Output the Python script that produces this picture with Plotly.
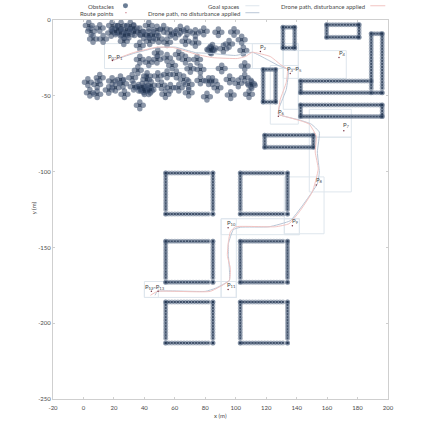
import plotly.graph_objects as go

OBST_X = [3.5,5.0,6.3,10.7,12.9,18.8,18.2,21.0,24.7,24.3,26.5,28.2,30.8,29.8,33.0,37.0,37.0,42.9,42.9,43.5,48.3,49.4,52.7,54.9,57.1,60.4,63.6,67.0,68.0,73.5,73.5,79.0,
          48.8,37.0,42.9,48.3,54.9,58.2,62.6,67.0,74.6,70.2,76.8,35.7,41.8,48.8,54.9,61.0,83.3,82.2,76.8,
          2.9,10.7,9.0,4.2,9.0,16.6,18.8,24.3,21.0,26.9,32,33,36.3,41.3,39.6,42.9,51.2,53.8,57.1,62.6,65.8,69.1,69.1,37,81.1,
          88.6,98.9,103.9,95.6,91.9,105,84.7,90.8,105.9,105.9,96.0,101.7,110.5,88,84.7,96.7,108.7,
          22.5,27,33.5,39.5,46,26,38.5,44.5,40,44,84,110]
OBST_Y = [-3.7,-7.5,-12.5,-5.3,-12.5,-3.7,-8.6,-7.5,-3.7,-8.6,-14.0,-6.4,-3.7,-9.7,-5.3,-7.5,-16.9,-3.7,-9.7,-14.0,-6.4,-12.5,-5.9,-14.7,-8.6,-9.7,-6.4,-14.0,-7.5,-8.6,-15.1,-7.5,
          -21.7,-26.1,-27.8,-26.1,-25.0,-30.0,-22.8,-26.1,-26.1,-32.2,-32.6,-33.1,-37.0,-37.0,-35.9,-35.9,-19.5,-40.3,-39.9,
          -41,-38.1,-42.5,-48,-49,-46.2,-40.3,-39.2,-44.7,-49,-38.1,-44,-44.7,-39.2,-45.8,-46.9,-43.1,-49,-44.7,-44.7,-39.2,-42.5,-48,-56.3,-50.6,
          -8.1,-7.9,-13,-15.8,-18.9,-20.2,-18.4,-32,-30.4,-38.1,-39.2,-41.8,-43,-44.7,-40.3,-49.5,-49,
          -6,-10,-8,-10,-10,-42,-44,-43,-47,-46,-20,-42]
LOBE_DX = [2.2, -2.2, 0, 0]
LOBE_DY = [0, 0, 2.2, -2.2]

COL_A = [54,56,58,60,62,64,66,68,70,72,74,76,78,80,82,85]
COL_B = [103,105,107,109,111,113,115,117,119,121,123,125,127,129,131,134]
ROW_1 = [-101,-103,-105,-107,-109,-111,-113,-115,-117,-119,-121,-123,-125,-128]
ROW_2 = [-146,-148,-150,-152,-154,-156,-158,-160,-162,-164,-166,-168,-170,-173]
ROW_3 = [-186,-188,-190,-192,-194,-196,-198,-200,-202,-204,-206,-208,-210,-213]
H_X = [119,121,123,125,127,129,131,133,135,137,139,141,143,145,147,149,151]
H_Y = [-76,-78,-80,-82,-84]
U1_X = [131,133,135,137,138.7]
U1_Y = [-4.8,-6.8,-8.8,-10.8,-12.8,-14.8,-16.8,-18.4]
U2_X = [159.7,161.7,163.7,165.7,167.7,169.7,171.7,173.7,175.7,177.7,179.7,181]
U2_Y = [-3.1,-5.1,-7.1,-9.1,-11.4]
U3_X = [118,120,122,124,126.2]
U3_Y = [-32.6,-34.6,-36.6,-38.6,-40.6,-42.6,-44.6,-46.6,-48.6,-50.6,-52.6,-54.1]
LONG_X = [142.6,144.6,146.6,148.6,150.6,152.6,154.6,156.6,158.6,160.6,162.6,164.6,166.6,168.6,170.6,172.6,174.6,176.6,178.6,180.6,182.6,184.6,186.6,188.6,190.6,192.6,194.6,196.2]
LOW_Y = [-56,-58,-60,-62,-63.7]
LSHAPE_Y = [-40.3,-42.3,-44.3,-46.3,-48]
LVERT_X = [189,191,193,195,196.2]
LVERT_Y = [-9,-11,-13,-15,-17,-19,-21,-23,-25,-27,-29,-31,-33,-35,-37,-39,-41,-43,-45,-48]
LTOP_X = [142.6,144.6,146.6,148.6,150.6,152.6,154.6,156.6,158.6,160.6,162.6,164.6,166.6,168.6,170.6,172.6,174.6,176.6,178.6,180.6,182.6,184.6,186.6,189]

def outline(xs, ys):
    px, py = [], []
    for x in xs:
        px += [x, x]; py += [ys[0], ys[-1]]
    for y in ys:
        px += [xs[0], xs[-1]]; py += [y, y]
    return px, py

WALLS = [(COL_A,ROW_1),(COL_B,ROW_1),(COL_A,ROW_2),(COL_B,ROW_2),(COL_A,ROW_3),(COL_B,ROW_3),
         (H_X,H_Y),(U1_X,U1_Y),(U2_X,U2_Y),(U3_X,U3_Y),(LONG_X,LOW_Y)]
wall_x, wall_y = [], []
for xs, ys in WALLS:
    a, b = outline(xs, ys)
    wall_x += a; wall_y += b
wall_x += LTOP_X; wall_y += [LSHAPE_Y[0]]*len(LTOP_X)
wall_x += LONG_X; wall_y += [LSHAPE_Y[-1]]*len(LONG_X)
wall_x += [LONG_X[0]]*len(LSHAPE_Y); wall_y += LSHAPE_Y
wall_x += [LVERT_X[0]]*len(LVERT_Y) + [LVERT_X[-1]]*len(LVERT_Y); wall_y += LVERT_Y + LVERT_Y
wall_x += LVERT_X; wall_y += [LVERT_Y[0]]*len(LVERT_X)

GOAL_X0 = [13.8,110.9,131.2,122.7,131.2,148.3,148.3,131.9,131.9,90.4,90.4,90.4,40,40]
GOAL_X1 = [131.2,141.1,141.1,141.1,172.6,175.9,175.9,158,141.8,141.8,100.4,100.4,100.4,49.2]
GOAL_Y0 = [-15.6,-15.6,-15.6,-30,-20.2,-58.9,-77.3,-103.5,-131.1,-131.1,-131.1,-172.5,-172.5,-177]
GOAL_Y1 = [-32,-32,-58.9,-68.7,-38.5,-77.3,-113.4,-141,-141.6,-141.6,-183,-183,-183,-183]

ROUTE_X = [19,116.2,135.8,167.8,128,171,152.9,137.2,95,95,44.6,49]
ROUTE_Y = [-26.7,-20.8,-35.3,-24.8,-63.5,-73.1,-108.8,-135.7,-137,-177.7,-179,-179]
LABELS = ["P<sub>0</sub>-P<sub>1</sub>","P<sub>2</sub>","P<sub>3</sub>-P<sub>5</sub>","P<sub>4</sub>","P<sub>6</sub>","P<sub>7</sub>","P<sub>8</sub>","P<sub>9</sub>","P<sub>10</sub>","P<sub>11</sub>","P<sub>12</sub>-P<sub>13</sub>"]
LABEL_X = [21,118.1,138.5,170.4,130,173,155.3,139.1,97.1,97.1,47.3]
LABEL_Y = [-24.1,-17.5,-32,-21.5,-60.9,-69.4,-105.5,-132.9,-133.7,-174.9,-175.8]

DIST_X = [19,32.8,48.6,59.1,74.8,84.7,101.1,106.3,110.9,122.7,129.3,133.9,133.2,129.3,128,131.9,143.7,148.3,152.9,152.2,154.2,150.3,141.8,135,126,99.8,96.5,95.2,94.5,96.5,95.8,83.3,48.6,44]
DIST_Y = [-26.7,-21.5,-17.9,-18.2,-22.8,-24.8,-25.4,-24.1,-21.3,-24.1,-29.3,-32.6,-41.2,-52.3,-62.2,-63.5,-66.8,-68.7,-76.6,-87.1,-98.3,-113.4,-126.5,-134.4,-136.4,-136.4,-139.6,-146.2,-155.4,-163.9,-171.8,-179,-179,-181.6]
NODIST_X = [19,32.8,48.6,60.4,73.5,84.7,99.8,110.9,120.7,129.3,134.5,133.2,128.6,128,131.9,142.4,149.6,154.9,153.6,154.9,153.6,143.7,135.8,121.9,103,98.4,95.2,95.2,95.8,95.8,86.6,80,48.6,47]
NODIST_Y = [-26.7,-22.1,-18.2,-17.9,-21.5,-22.1,-23.4,-21.3,-26.1,-30.7,-32.6,-45.8,-57.6,-62.2,-63.5,-66.1,-68.7,-74,-87.1,-100.3,-108.1,-122.6,-132.4,-136.4,-136.7,-138.3,-147.5,-155.4,-163.9,-171.8,-177,-179,-179,-181.6]

X_TICKS = [-20,0,20,40,60,80,100,120,140,160,180,200]
Y_TICKS = [0,-50,-100,-150,-200,-250]

FONT = "Lato"
TXT = "#4a4a4a"
OBST_COLOR = "rgba(56,76,106,0.58)"
WALL_COLOR = "rgba(76,96,124,0.46)"
CORE_COLOR = "rgba(30,48,76,0.75)"
WALL_CORE_COLOR = "rgba(30,48,76,0.75)"
GOAL_COLOR = "#dee6ed"
NODIST_COLOR = "#b9c6d6"
DIST_COLOR = "#f2c4c2"

PL, PR, PT, PB = 52.5, 387.7, 20.3, 401.0
def paper_x(px): return (px - PL) / (PR - PL)
def paper_y(py): return 1 - (py - PT) / (PB - PT)

fig = go.Figure()

gx, gy = [], []
for x0, x1, y0, y1 in zip(GOAL_X0, GOAL_X1, GOAL_Y0, GOAL_Y1):
    gx += [x0, x1, x1, x0, x0, None]; gy += [y0, y0, y1, y1, y0, None]
fig.add_trace(go.Scatter(x=gx, y=gy, mode="lines", line=dict(color=GOAL_COLOR, width=1), name="Goal spaces"))

lobe_x, lobe_y = [], []
for x, y in zip(OBST_X, OBST_Y):
    for dx, dy in zip(LOBE_DX, LOBE_DY):
        lobe_x.append(x + dx); lobe_y.append(y + dy)
fig.add_trace(go.Scatter(x=lobe_x, y=lobe_y, mode="markers", name="Obstacles",
                         marker=dict(size=5.5, color=OBST_COLOR, line=dict(width=0))))
fig.add_trace(go.Scatter(x=wall_x, y=wall_y, mode="markers", name="Walls",
                         marker=dict(size=5, color=WALL_COLOR, line=dict(width=0))))
fig.add_trace(go.Scatter(x=OBST_X, y=OBST_Y, mode="markers", name="Obstacle centres",
                         marker=dict(size=3, symbol="square", color=CORE_COLOR, line=dict(width=0))))
fig.add_trace(go.Scatter(x=wall_x, y=wall_y, mode="markers", name="Wall centres",
                         marker=dict(size=2, symbol="square", color=WALL_CORE_COLOR, line=dict(width=0))))
fig.add_trace(go.Scatter(x=NODIST_X, y=NODIST_Y, mode="lines", name="Drone path, no disturbance applied",
                         line=dict(color=NODIST_COLOR, width=1, shape="spline", smoothing=0.4)))
fig.add_trace(go.Scatter(x=DIST_X, y=DIST_Y, mode="lines", name="Drone path, disturbance applied",
                         line=dict(color=DIST_COLOR, width=1, shape="spline", smoothing=0.4)))
fig.add_trace(go.Scatter(x=ROUTE_X, y=ROUTE_Y, mode="markers", name="Route points",
                         marker=dict(size=1.5, color="#7a3040", line=dict(width=0))))

annotations = [dict(x=x, y=y, text=t, showarrow=False, xref="x", yref="y",
                    font=dict(family=FONT, size=6, color=TXT))
               for x, y, t in zip(LABEL_X, LABEL_Y, LABELS)]
for text, xr, yp in [("Obstacles", 115, 6.5), ("Route points", 115, 13.5), ("Goal spaces", 241, 6.5),
                     ("Drone path, no disturbance applied", 241, 13.5), ("Drone path, disturbance applied", 366, 6.5)]:
    annotations.append(dict(x=paper_x(xr), y=paper_y(yp), xref="paper", yref="paper", xanchor="right", yanchor="middle",
                            text=text, showarrow=False, xshift=1, font=dict(family=FONT, size=6, color=TXT)))
annotations.append(dict(x=paper_x(220), y=paper_y(418), xref="paper", yref="paper", text="x (m)", showarrow=False,
                        xanchor="center", yanchor="middle", font=dict(family=FONT, size=6, color=TXT)))
annotations.append(dict(x=paper_x(33), y=paper_y(209), xref="paper", yref="paper", text="y (m)", textangle=-90, showarrow=False,
                        xanchor="center", yanchor="middle", font=dict(family=FONT, size=6, color=TXT)))

shapes = []
for x0, x1, yp, c in [(245, 259, 6, GOAL_COLOR), (245, 259, 13, NODIST_COLOR), (370, 385, 6, DIST_COLOR)]:
    shapes.append(dict(type="line", xref="paper", yref="paper", x0=paper_x(x0), x1=paper_x(x1), y0=paper_y(yp), y1=paper_y(yp),
                       line=dict(color=c, width=1)))
shapes.append(dict(type="circle", xref="paper", yref="paper", x0=paper_x(122.5), x1=paper_x(127.5), y0=paper_y(8.5), y1=paper_y(3.5),
                   fillcolor="#6a7d95", line=dict(width=0)))
shapes.append(dict(type="line", xref="paper", yref="paper", x0=paper_x(125), x1=paper_x(126), y0=paper_y(13), y1=paper_y(13),
                   line=dict(color="#b04050", width=1)))

axis = dict(showgrid=False, zeroline=False, showline=True, mirror="ticks", linecolor="#cfcfcf", linewidth=1,
            ticks="inside", ticklen=2, tickcolor="#cfcfcf", tickfont=dict(family=FONT, size=6, color=TXT))
fig.update_layout(
    width=423, height=423, showlegend=False, plot_bgcolor="white", paper_bgcolor="white",
    margin=dict(l=PL, r=423 - PR, t=PT, b=423 - PB),
    xaxis=dict(axis, range=[-20, 200], tickvals=X_TICKS, ticktext=[str(v) for v in X_TICKS], ticklabelstandoff=3),
    yaxis=dict(axis, range=[-250, 0], tickvals=Y_TICKS, ticktext=[str(v) for v in Y_TICKS]),
    annotations=annotations, shapes=shapes,
)
fig.write_html("out.html", config={"displayModeBar": False}, post_script="document.body.style.margin='0';")
